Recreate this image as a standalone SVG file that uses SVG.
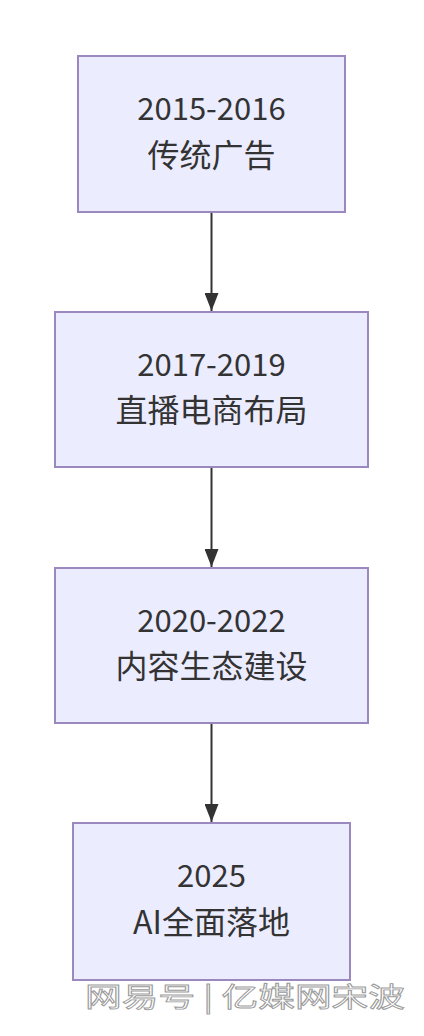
<svg xmlns="http://www.w3.org/2000/svg" width="424" height="1036" viewBox="0 0 424 1036">
<defs>
<style>
.box{fill:#ECECFF;stroke:#9a88bf;stroke-width:2}
.t{font-family:"Noto Sans CJK SC","Noto Sans",sans-serif;font-size:31px;fill:#333;text-anchor:middle}
.c{font-size:32px}
.e{stroke:#333;stroke-width:2;fill:none}
.wm{font-family:"Noto Sans CJK SC",sans-serif;font-size:27px;fill:#fff;stroke:#9a9a9a;stroke-width:0.9}
</style>
<marker id="ah" viewBox="0 0 18 14" refX="18" refY="7" markerWidth="18" markerHeight="14" markerUnits="userSpaceOnUse" orient="auto">
<path d="M0,0 L18,7 L0,14 Z" fill="#333"/>
</marker>
</defs>
<rect width="424" height="1036" fill="#fff"/>
<g id="edges">
<path class="e" d="M211.5,212 V311" marker-end="url(#ah)"/>
<path class="e" d="M211.5,467 V567" marker-end="url(#ah)"/>
<path class="e" d="M211.5,723 V822" marker-end="url(#ah)"/>
</g>
<g id="n1">
<rect class="box" x="78" y="56" width="267" height="156"/>
<text class="t" x="211.5" y="120">2015-2016</text>
<text class="t c" x="211.5" y="167">传统广告</text>
</g>
<g id="n2">
<rect class="box" x="55" y="312" width="313" height="155"/>
<text class="t" x="211.5" y="376">2017-2019</text>
<text class="t c" x="211.5" y="422">直播电商布局</text>
</g>
<g id="n3">
<rect class="box" x="55" y="568" width="313" height="155"/>
<text class="t" x="211.5" y="632">2020-2022</text>
<text class="t c" x="211.5" y="678">内容生态建设</text>
</g>
<g id="n4">
<rect class="box" x="73" y="823" width="277" height="157"/>
<text class="t" x="211.5" y="887">2025</text>
<text class="t c" x="211.5" y="934">AI全面落地</text>
</g>
<text class="wm" x="85" y="1007" textLength="320" lengthAdjust="spacingAndGlyphs">网易号 | 亿媒网宋波</text>
</svg>
